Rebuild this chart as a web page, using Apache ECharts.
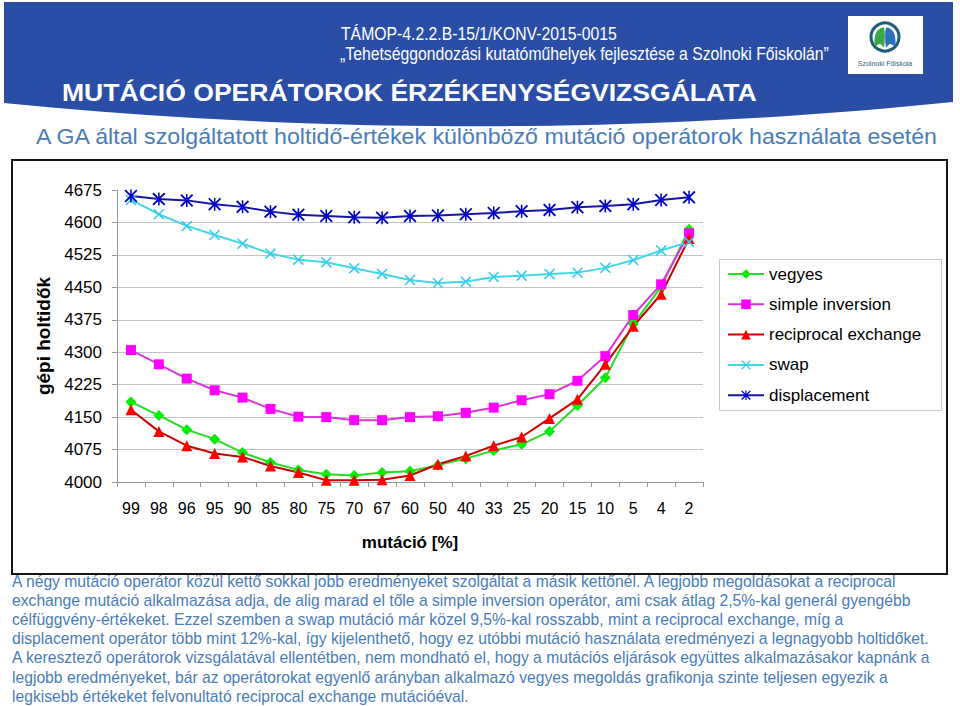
<!DOCTYPE html>
<html>
<head>
<meta charset="utf-8">
<script src="https://cdn.jsdelivr.net/npm/echarts@6/dist/echarts.min.js"></script>
<style>
html,body{margin:0;padding:0;background:#fff;}
#c{width:960px;height:706px;}
</style>
</head>
<body>
<div id="c"></div>
<script>
// ---- data ----
const categories = ['99','98','96','95','90','85','80','75','70','67','60','50','40','33','25','20','15','10','5','4','2'];
const seriesNames = ['vegyes','simple inversion','reciprocal exchange','swap','displacement'];
const vegyes       = [4185,4154,4121,4099,4068,4045,4028,4018,4015,4022,4025,4039,4054,4073,4087,4117,4177,4241,4365,4451,4584];
const simpleInv    = [4305,4272,4239,4212,4195,4169,4151,4150,4143,4143,4150,4152,4160,4172,4189,4203,4234,4291,4386,4457,4575];
const reciprocal   = [4167,4117,4084,4066,4058,4037,4022,4004,4004,4005,4015,4041,4060,4084,4104,4147,4191,4272,4360,4434,4563];
const swap         = [4652,4619,4592,4571,4551,4528,4514,4508,4494,4481,4467,4460,4463,4474,4477,4481,4484,4495,4513,4535,4555];
const displacement = [4661,4654,4651,4642,4636,4625,4618,4615,4612,4611,4615,4616,4619,4622,4626,4629,4635,4638,4642,4652,4658];
const yMin = 4000, yMax = 4675, yStep = 75;

const headerLine1 = 'TÁMOP-4.2.2.B-15/1/KONV-2015-0015';
const headerLine2 = '„Tehetséggondozási kutatóműhelyek fejlesztése a Szolnoki Főiskolán”';
const titleText = 'MUTÁCIÓ OPERÁTOROK ÉRZÉKENYSÉGVIZSGÁLATA';
const subtitleText = 'A GA által szolgáltatott holtidő-értékek különböző mutáció operátorok használata esetén';
const paragraph = [
 'A négy mutáció operátor közül kettő sokkal jobb eredményeket szolgáltat a másik kettőnél. A legjobb megoldásokat a reciprocal',
 'exchange mutáció alkalmazása adja, de alig marad el tőle a simple inversion operátor, ami csak átlag 2,5%-kal generál gyengébb',
 'célfüggvény-értékeket. Ezzel szemben a swap mutáció már közel 9,5%-kal rosszabb, mint a reciprocal exchange, míg a',
 'displacement operátor több mint 12%-kal, így kijelenthető, hogy ez utóbbi mutáció használata eredményezi a legnagyobb holtidőket.',
 'A keresztező operátorok vizsgálatával ellentétben, nem mondható el, hogy a mutációs eljárások együttes alkalmazásakor kapnánk a',
 'legjobb eredményeket, bár az operátorokat egyenlő arányban alkalmazó vegyes megoldás grafikonja szinte teljesen egyezik a',
 'legkisebb értékeket felvonultató reciprocal exchange mutációéval.'
];

// ---- helpers ----
const FF = '"Liberation Sans", Arial, sans-serif';
const mctx = document.createElement('canvas').getContext('2d');
function fitScale(text, size, weight, target){
  mctx.font = (weight||'normal') + ' ' + size + 'px ' + FF;
  return target / mctx.measureText(text).width;
}
function txt(text, x, y, size, opts){
  opts = opts || {};
  return {
    type:'text', x:x, y:y, scaleX: opts.scaleX || 1, z: 10,
    style:{ text:text, fontSize:size, fontFamily:FF, fontWeight: opts.weight||'normal',
      fill: opts.fill||'#000', textAlign: opts.align||'left', textVerticalAlign:'middle', verticalAlign:'middle' }
  };
}
function quadPts(p0, c, p1, n){
  const pts = [];
  for (let i = 0; i <= n; i++){
    const t = i / n, a = (1-t)*(1-t), b = 2*t*(1-t), d = t*t;
    pts.push([a*p0[0]+b*c[0]+d*p1[0], a*p0[1]+b*c[1]+d*p1[1]]);
  }
  return pts;
}

const BLUE = '#2a4ea6';
const TEXTBLUE = '#4a7cba';
const paraSize = 16;
const paraScale = fitScale(paragraph[3], paraSize, 'normal', 918);

const bandPts = [[4,2],[953,2]].concat(quadPts([953,102],[480,150],[4,103],40));

const graphics = [
  { type:'polygon', z:0, shape:{ points: bandPts }, style:{ fill: BLUE } },
  txt(headerLine1, 341, 33, 19, {fill:'#fff', scaleX: fitScale(headerLine1,19,'normal',276)}),
  txt(headerLine2, 340, 53, 19, {fill:'#fff', scaleX: fitScale(headerLine2,19,'normal',490)}),
  txt(titleText, 62, 92, 24, {fill:'#fff', weight:'bold', scaleX: fitScale(titleText,24,'bold',695)}),
  txt(subtitleText, 36, 137, 22, {fill:TEXTBLUE, scaleX: fitScale(subtitleText,22,'normal',904)}),
  // logo
  { type:'rect', z:5, shape:{x:848,y:16,width:75,height:58}, style:{fill:'#fff'} },
  { type:'circle', z:6, shape:{cx:885,cy:37,r:14}, style:{fill:'none', stroke:'#1d5f7a', lineWidth:3} },
  { type:'polygon', z:7, shape:{ points:[[884,28],[878,30],[875,36],[875,46],[880,44],[884,47]], smooth:0.3 }, style:{ fill:'#3aa845' } },
  { type:'polygon', z:7, shape:{ points:[[886,28],[892,30],[895,36],[895,46],[890,44],[886,47]], smooth:0.3 }, style:{ fill:'#2f6fc0' } },
  txt('Szolnoki Főiskola', 885, 63, 7, {fill:'#2b5f7a', align:'center'}),
  // chart frame
  { type:'rect', z:1, shape:{x:12,y:160,width:935,height:414}, style:{fill:'none', stroke:'#151515', lineWidth:2} },
  // legend frame
  { type:'rect', z:1, shape:{x:719.5,y:259.5,width:222,height:151}, style:{fill:'none', stroke:'#c8c8c8', lineWidth:1} }
];
paragraph.forEach(function(line, i){
  graphics.push(txt(line, 12, 581 + i*19.2, paraSize, {fill:TEXTBLUE, scaleX: paraScale}));
});

const crossPath = 'path://M10 0L50 40L90 0L100 10L60 50L100 90L90 100L50 60L10 100L0 90L40 50L0 10Z';
const starPath = 'path://M10 0L50 40L90 0L100 10L60 50L100 90L90 100L50 60L10 100L0 90L40 50L0 10Z M44 0L56 0L56 100L44 100Z';

function mk(name, data, lineColor, markColor, symbol, size){
  return {
    name:name, type:'line', data:data, symbol:symbol, symbolSize:size,
    lineStyle:{ color: lineColor, width:2 },
    itemStyle:{ color: markColor, borderWidth:0 },
    emphasis:{ disabled:true }
  };
}

const chart = echarts.init(document.getElementById('c'), null, {renderer:'svg'});
chart.setOption({
  animation:false,
  textStyle:{ fontFamily: FF },
  grid:{ left:117, right:257, top:190, bottom:224, containLabel:false },
  legend:{
    orient:'vertical', left:719, top:259, padding:[5,8,5,8],
    itemWidth:36, itemHeight:12, itemGap:10.3,
    textStyle:{ fontSize:17, color:'#000', lineHeight:20, fontFamily:FF },
    data: seriesNames
  },
  xAxis:{
    type:'category', data:categories, boundaryGap:true,
    axisLine:{ lineStyle:{ color:'#9a9a9a', width:1 } },
    axisTick:{ show:true, length:5, lineStyle:{ color:'#9a9a9a' } },
    axisLabel:{ fontSize:16, color:'#000', margin:18, interval:0, fontFamily:FF },
    name:'mutáció [%]', nameLocation:'middle', nameGap:52,
    nameTextStyle:{ fontSize:17, fontWeight:'bold', color:'#000', fontFamily:FF }
  },
  yAxis:{
    type:'value', min:yMin, max:yMax, interval:yStep,
    axisLine:{ show:true, lineStyle:{ color:'#9a9a9a', width:1 } },
    axisTick:{ show:true, length:5, lineStyle:{ color:'#9a9a9a' } },
    axisLabel:{ fontSize:17, color:'#000', margin:15, fontFamily:FF, formatter:function(v){ return String(v); } },
    splitLine:{ show:true, showMaxLine:false, lineStyle:{ color:'#c4c4c4', width:1 } },
    name:'gépi holtidők', nameLocation:'middle', nameGap:62, nameRotate:90,
    nameTextStyle:{ fontSize:19, fontWeight:'bold', color:'#000', fontFamily:FF }
  },
  series:[
    mk(seriesNames[0], vegyes, '#22dd22', '#00ee00', 'diamond', 11),
    mk(seriesNames[1], simpleInv, '#dd33dd', '#ff00ff', 'rect', 10),
    mk(seriesNames[2], reciprocal, '#cc0000', '#ff0000', 'triangle', 11),
    mk(seriesNames[3], swap, '#40d8e8', '#33ccee', crossPath, 11),
    mk(seriesNames[4], displacement, '#1515a8', '#0000cc', starPath, 13)
  ],
  graphic: graphics
});
</script>
</body>
</html>
